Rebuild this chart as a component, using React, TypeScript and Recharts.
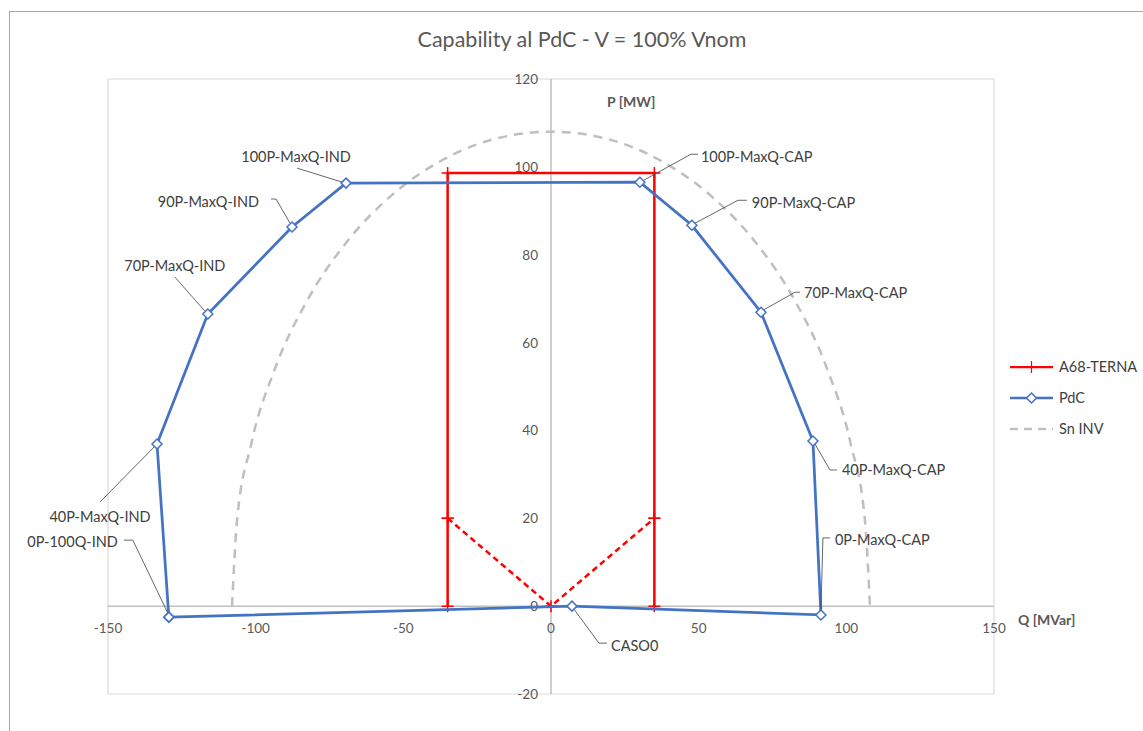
import React from "react";
import {
  CartesianGrid,
  Legend,
  ReferenceLine,
  Scatter,
  ScatterChart,
  XAxis,
  YAxis,
} from "recharts";

const X_TICKS = [-150, -100, -50, 0, 50, 100, 150];
const Y_TICKS = [-20, 0, 20, 40, 60, 80, 100, 120];

const PDC_NAMES = [
  "0P-100Q-IND",
  "40P-MaxQ-IND",
  "70P-MaxQ-IND",
  "90P-MaxQ-IND",
  "100P-MaxQ-IND",
  "100P-MaxQ-CAP",
  "90P-MaxQ-CAP",
  "70P-MaxQ-CAP",
  "40P-MaxQ-CAP",
  "0P-MaxQ-CAP",
  "CASO0",
];
const PDC_Q = [-129.4, -133.4, -116.2, -87.7, -69.4, 30.1, 47.7, 71.1, 88.7, 91.4, 7.1];
const PDC_P = [-2.5, 36.9, 66.5, 86.3, 96.3, 96.5, 86.7, 66.9, 37.6, -2.0, 0];

const TERNA_Q = [-35, -35, -35, 35, 35, 35];
const TERNA_P = [0, 20, 98.6, 98.6, 20, 0];
const TERNA_V_Q = [-35, 0, 35];
const TERNA_V_P = [20, 0, 20];

const SN_Q = [-108, -106.4, -101.5, -93.5, -82.7, -69.4, -54, -36.9, -18.8, 0, 18.8, 36.9, 54, 69.4, 82.7, 93.5, 101.5, 106.4, 108];
const SN_P = [0, 18.8, 36.9, 54, 69.4, 82.7, 93.5, 101.5, 106.4, 108, 106.4, 101.5, 93.5, 82.7, 69.4, 54, 36.9, 18.8, 0];

const BLUE = "#4472C4";
const RED = "#FF0000";
const GREY = "#BFBFBF";
const FONT = "Lato, 'Liberation Sans', sans-serif";

// closed polygon: back to the first point at the end
const pdcData = [...PDC_NAMES, PDC_NAMES[0]].map((n, i) => {
  const k = i % PDC_NAMES.length;
  return { q: PDC_Q[k], p: PDC_P[k], name: i < PDC_NAMES.length ? n : "" };
});
const ternaData = TERNA_Q.map((q, i) => ({ q, p: TERNA_P[i] }));
const ternaVData = TERNA_V_Q.map((q, i) => ({ q, p: TERNA_V_P[i] }));
const snData = SN_Q.map((q, i) => ({ q, p: SN_P[i] }));
const xTickData = X_TICKS.map((q) => ({ q, p: 0, label: String(q) }));
const yTickData = Y_TICKS.map((p) => ({ q: 0, p, label: String(p) }));

type Callout = {
  tx: number;
  ty: number;
  anchor: "start" | "middle" | "end";
  path: [number, number][];
};

// label placement relative to the marker (pixels)
const CALLOUTS: Record<string, Callout> = {
  "0P-100Q-IND": { tx: -51, ty: -76, anchor: "end", path: [[-45, -77], [-36, -77], [-1, -4]] },
  "40P-MaxQ-IND": { tx: -57, ty: 72, anchor: "middle", path: [[-57, 58], [-2, 2]] },
  "70P-MaxQ-IND": { tx: -33, ty: -49, anchor: "middle", path: [[-33, -37], [-3, -3]] },
  "90P-MaxQ-IND": { tx: -33, ty: -26, anchor: "end", path: [[-21, -28], [-16, -28], [-2, -4]] },
  "100P-MaxQ-IND": { tx: -50, ty: -27, anchor: "middle", path: [[-49, -15], [-4, -1]] },
  "100P-MaxQ-CAP": { tx: 61, ty: -26, anchor: "start", path: [[58, -28], [51, -28], [4, -2]] },
  "90P-MaxQ-CAP": { tx: 60, ty: -23, anchor: "start", path: [[55, -25], [46, -25], [3, -2]] },
  "70P-MaxQ-CAP": { tx: 43, ty: -20, anchor: "start", path: [[39, -20], [34, -20], [2, -2]] },
  "40P-MaxQ-CAP": { tx: 29, ty: 29, anchor: "start", path: [[24, 29], [17, 29], [2, 3]] },
  "0P-MaxQ-CAP": { tx: 14, ty: -75, anchor: "start", path: [[9, -77], [2, -77], [0, -3]] },
  CASO0: { tx: 39, ty: 39, anchor: "start", path: [[35, 37], [27, 37], [2, 3]] },
};

const LEGEND = [
  { name: "A68-TERNA", kind: "plus" },
  { name: "PdC", kind: "diamond" },
  { name: "Sn INV", kind: "dash" },
];

function Diamond({ cx, cy }: { cx: number; cy: number }) {
  const r = 5;
  return (
    <path
      d={`M${cx},${cy - r}L${cx + r},${cy}L${cx},${cy + r}L${cx - r},${cy}Z`}
      fill="#fff"
      stroke={BLUE}
      strokeWidth={1.5}
    />
  );
}

function Plus({ cx, cy }: { cx: number; cy: number }) {
  const r = 6;
  return (
    <path
      d={`M${cx - r},${cy}H${cx + r}M${cx},${cy - r}V${cy + r}`}
      stroke={RED}
      strokeWidth={1.5}
    />
  );
}

const pdcShape = (props: any) => {
  const { cx, cy, payload } = props;
  const c = payload && CALLOUTS[payload.name];
  return (
    <g>
      {c && (
        <>
          <polyline
            points={c.path.map(([dx, dy]) => `${cx + dx},${cy + dy}`).join(" ")}
            fill="none"
            stroke="#404040"
            strokeWidth={0.8}
          />
          <text
            x={cx + c.tx}
            y={cy + c.ty}
            textAnchor={c.anchor}
            dominantBaseline="central"
            fontSize={14.5}
            fontFamily={FONT}
            fill="#404040"
          >
            {payload.name}
          </text>
        </>
      )}
      <Diamond cx={cx} cy={cy} />
    </g>
  );
};

const plusShape = (props: any) => <Plus cx={props.cx} cy={props.cy} />;
const noShape = () => <g />;

const xTickShape = (props: any) => (
  <text
    x={props.cx}
    y={props.cy + 22}
    textAnchor="middle"
    dominantBaseline="central"
    fontSize={13.5}
    fontFamily={FONT}
    fill="#595959"
  >
    {props.payload.label}
  </text>
);

const yTickShape = (props: any) => (
  <text
    x={props.cx - 13}
    y={props.cy}
    textAnchor="end"
    dominantBaseline="central"
    fontSize={13.5}
    fontFamily={FONT}
    fill="#595959"
  >
    {props.payload.label}
  </text>
);

function LegendBox() {
  return (
    <div style={{ fontFamily: FONT, fontSize: 14.5, color: "#404040" }}>
      {LEGEND.map((l) => (
        <div key={l.name} style={{ display: "flex", alignItems: "center", height: 31 }}>
          <svg width={50} height={20} style={{ marginRight: 5 }}>
            {l.kind === "plus" && (
              <>
                <line x1={6} x2={49} y1={10} y2={10} stroke={RED} strokeWidth={2.25} />
                <line x1={27.5} x2={27.5} y1={4} y2={16} stroke={RED} strokeWidth={1.2} />
              </>
            )}
            {l.kind === "diamond" && (
              <>
                <line x1={6} x2={49} y1={10} y2={10} stroke={BLUE} strokeWidth={2.5} />
                <Diamond cx={27.5} cy={10} />
              </>
            )}
            {l.kind === "dash" && (
              <line x1={6} x2={49} y1={10} y2={10} stroke={GREY} strokeWidth={2.5} strokeDasharray="8 6" />
            )}
          </svg>
          <span>{l.name}</span>
        </div>
      ))}
    </div>
  );
}

export default function App() {
  return (
    <div
      style={{
        position: "absolute",
        left: 0,
        top: 0,
        width: 1143,
        height: 731,
        overflow: "hidden",
        background: "#fff",
        fontFamily: FONT,
      }}
    >
      <div
        style={{
          position: "absolute",
          left: 9,
          top: 11,
          width: 1200,
          height: 800,
          border: "1px solid #A6A6A6",
        }}
      />
      <div
        style={{
          position: "absolute",
          left: 0,
          width: 1164,
          top: 26,
          textAlign: "center",
          fontSize: 21.5,
          color: "#595959",
        }}
      >
        Capability al PdC - V = 100% Vnom
      </div>
      <div
        style={{
          position: "absolute",
          left: 607,
          top: 93,
          fontSize: 14,
          fontWeight: 700,
          color: "#595959",
        }}
      >
        P [MW]
      </div>
      <div
        style={{
          position: "absolute",
          left: 1018,
          top: 611,
          fontSize: 14,
          fontWeight: 700,
          color: "#595959",
        }}
      >
        Q [MVar]
      </div>
      <div style={{ position: "absolute", left: 0, top: 0 }}>
        <ScatterChart
          width={1143}
          height={731}
          margin={{ top: 79, right: 10, bottom: 37, left: 108 }}
        >
          <CartesianGrid stroke="#D9D9D9" strokeWidth={1.2} />
          <XAxis
            type="number"
            dataKey="q"
            domain={[-150, 150]}
            ticks={X_TICKS}
            tick={false}
            tickLine={false}
            axisLine={false}
            height={0}
          />
          <YAxis
            type="number"
            dataKey="p"
            domain={[-20, 120]}
            ticks={Y_TICKS}
            tick={false}
            tickLine={false}
            axisLine={false}
            width={0}
          />
          <ReferenceLine x={0} stroke={GREY} strokeWidth={1.5} />
          <ReferenceLine y={0} stroke={GREY} strokeWidth={1.5} />
          <Scatter
            name="x ticks"
            data={xTickData}
            shape={xTickShape}
            legendType="none"
            isAnimationActive={false}
          />
          <Scatter
            name="y ticks"
            data={yTickData}
            shape={yTickShape}
            legendType="none"
            isAnimationActive={false}
          />
          <Scatter
            name="Sn INV"
            data={snData}
            line={{ stroke: GREY, strokeWidth: 2.5, strokeDasharray: "9 7" }}
            lineJointType="monotoneX"
            shape={noShape}
            isAnimationActive={false}
          />
          <Scatter
            name="A68-TERNA"
            data={ternaData}
            line={{ stroke: RED, strokeWidth: 2.5 }}
            shape={plusShape}
            isAnimationActive={false}
          />
          <Scatter
            name="A68-TERNA V"
            data={ternaVData}
            line={{ stroke: RED, strokeWidth: 2.5, strokeDasharray: "6 4" }}
            shape={plusShape}
            legendType="none"
            isAnimationActive={false}
          />
          <Scatter
            name="PdC"
            data={pdcData}
            line={{ stroke: BLUE, strokeWidth: 2.75 }}
            shape={pdcShape}
            isAnimationActive={false}
          />
          <Legend
            layout="vertical"
            align="right"
            verticalAlign="top"
            content={() => <LegendBox />}
            wrapperStyle={{ left: 1004, top: 351, width: 139 }}
          />
        </ScatterChart>
      </div>
    </div>
  );
}
